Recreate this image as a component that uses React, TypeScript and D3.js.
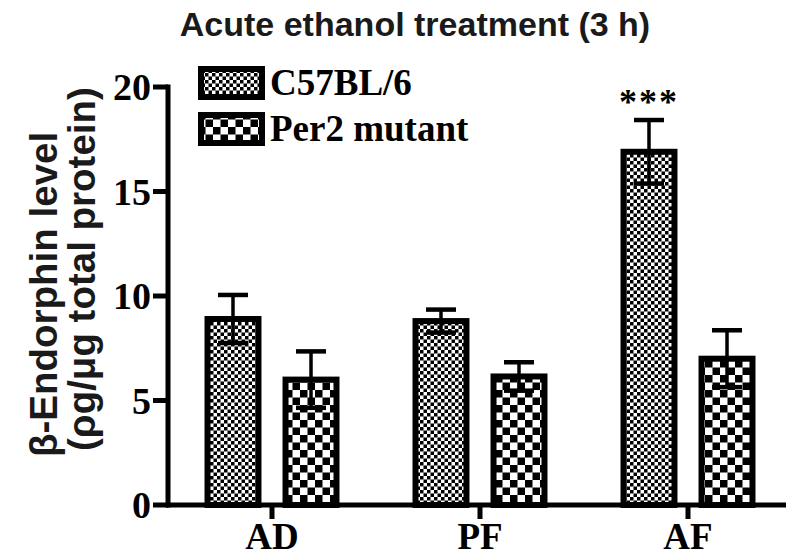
import React from "react";
import * as d3 from "d3";

const categories = ["AD", "PF", "AF"];
const series = ["C57BL/6", "Per2 mutant"];
const c57Means = [8.9, 8.8, 16.9];
const c57Errors = [1.15, 0.55, 1.52];
const per2Means = [6.0, 6.15, 7.0];
const per2Errors = [1.35, 0.68, 1.36];
const yTicks = [0, 5, 10, 15, 20];
const significance = ["", "", "***"];
const title = "Acute ethanol treatment (3 h)";
const yLabel1 = "β-Endorphin level";
const yLabel2 = "(ρg/μg total protein)";

const W = 800;
const H = 559;
const serif = "'Liberation Serif', 'Times New Roman', serif";
const sans = "'Liberation Sans', Arial, sans-serif";

export default function App() {
  const y = d3.scaleLinear().domain([0, 20]).range([505, 87]);
  const x0 = d3.scaleBand<string>().domain(categories).range([168, 792]).paddingInner(0).paddingOuter(0);
  const x1 = d3.scaleBand<string>().domain(series).range([0, x0.bandwidth()]).paddingInner(0.27).paddingOuter(0.468);
  const means = [c57Means, per2Means];
  const errs = [c57Errors, per2Errors];
  const patterns = ["patFine", "patCoarse"];
  const sw = 6;

  const bars: React.ReactNode[] = [];
  const errBars: React.ReactNode[] = [];
  categories.forEach((c, ci) => {
    series.forEach((s, si) => {
      const bx = (x0(c) as number) + (x1(s) as number);
      const bw = x1.bandwidth();
      const m = means[si][ci];
      const e = errs[si][ci];
      const top = y(m);
      bars.push(
        <rect key={`b${ci}${si}`} x={bx + sw / 2} y={top} width={bw - sw} height={y(0) - top}
          fill={`url(#${patterns[si]})`} stroke="#000" strokeWidth={sw} />
      );
      const cx = bx + bw / 2;
      errBars.push(
        <g key={`e${ci}${si}`} stroke="#000">
          <line x1={cx} x2={cx} y1={y(m + e)} y2={y(m - e)} strokeWidth={3.5} />
          <line x1={cx - 15} x2={cx + 15} y1={y(m + e)} y2={y(m + e)} strokeWidth={4.5} />
          <line x1={cx - 15} x2={cx + 15} y1={y(m - e)} y2={y(m - e)} strokeWidth={4.5} />
        </g>
      );
    });
  });

  return (
    <svg width={W} height={H} style={{ position: "absolute", left: 0, top: 0, background: "#fff" }}>
      <defs>
        <pattern id="patFine" patternUnits="userSpaceOnUse" width={7} height={7}>
          <rect width={7} height={7} fill="#fff" />
          <rect x={0} y={0} width={3.5} height={3.5} fill="#000" />
          <rect x={3.5} y={3.5} width={3.5} height={3.5} fill="#000" />
        </pattern>
        <pattern id="patCoarse" patternUnits="userSpaceOnUse" width={15} height={15}>
          <rect width={15} height={15} fill="#fff" />
          <rect x={0} y={0} width={7.5} height={7.5} fill="#000" />
          <rect x={7.5} y={7.5} width={7.5} height={7.5} fill="#000" />
        </pattern>
      </defs>
      <rect width={W} height={H} fill="#fff" />

      <text x={415} y={36} textAnchor="middle" fontFamily={sans} fontWeight="bold" fontSize={34} fill="#1a1a1a">{title}</text>

      <g transform="rotate(-90)">
        <text x={-457} y={57} textAnchor="start" fontFamily={sans} fontWeight="bold" fontSize={38.5} fill="#1a1a1a">{yLabel1}</text>
        <text x={-451} y={95} textAnchor="start" fontFamily={sans} fontWeight="bold" fontSize={38.5} fill="#1a1a1a">{yLabel2}</text>
      </g>

      {bars}
      {errBars}

      {/* y axis */}
      <line x1={168} x2={168} y1={y(20) - 2.5} y2={y(0) + 2.5} stroke="#000" strokeWidth={5} />
      {yTicks.map((t) => (
        <g key={`yt${t}`}>
          <line x1={153} x2={168} y1={y(t)} y2={y(t)} stroke="#000" strokeWidth={5} />
          <text x={151} y={y(t) + 13} textAnchor="end" fontFamily={serif} fontWeight="bold" fontSize={38} fill="#000">{t}</text>
        </g>
      ))}

      {/* x axis */}
      <line x1={166} x2={786} y1={y(0)} y2={y(0)} stroke="#000" strokeWidth={5} />
      {categories.map((c) => {
        const cx = (x0(c) as number) + x0.bandwidth() / 2;
        return (
          <g key={`xt${c}`}>
            <line x1={cx} x2={cx} y1={y(0)} y2={y(0) + 14} stroke="#000" strokeWidth={5} />
            <text x={cx} y={549} textAnchor="middle" fontFamily={serif} fontWeight="bold" fontSize={37} fill="#000">{c}</text>
          </g>
        );
      })}

      {/* significance */}
      {categories.map((c, ci) => {
        if (!significance[ci]) return null;
        const cx = (x0(c) as number) + (x1(series[0]) as number) + x1.bandwidth() / 2;
        return (
          <text key={`s${c}`} x={cx} y={114} textAnchor="middle" fontFamily={serif} fontWeight="bold" fontSize={36} letterSpacing={2} fill="#000">{significance[ci]}</text>
        );
      })}

      {/* legend */}
      {series.map((s, si) => (
        <g key={`lg${s}`} transform={`translate(198,${66 + si * 46})`}>
          <rect x={3} y={3} width={61} height={28} fill={`url(#${patterns[si]})`} stroke="#000" strokeWidth={6} />
          <text x={72} y={29} fontFamily={serif} fontWeight="bold" fontSize={37} fill="#000">{s}</text>
        </g>
      ))}
    </svg>
  );
}
